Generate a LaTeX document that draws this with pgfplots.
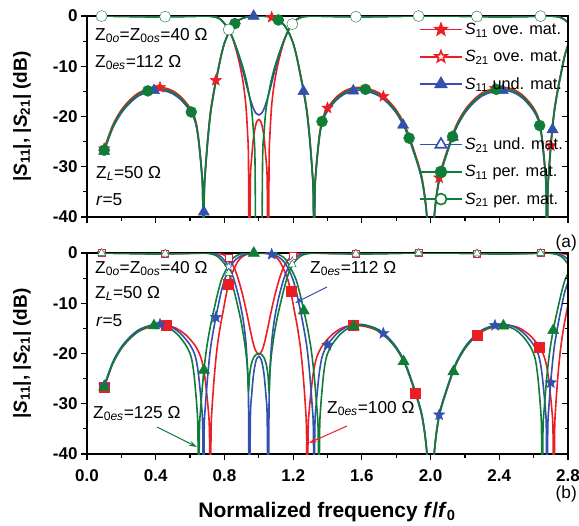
\documentclass[border=0pt]{standalone}
\usepackage{fontspec}
\setmainfont{Liberation Sans}
\usepackage{pgfplots}
\usepackage{pgfplotstable}
\pgfplotsset{compat=1.18}
\usetikzlibrary{arrows.meta}

\definecolor{cR}{RGB}{235,30,35}
\definecolor{cB}{RGB}{50,80,175}
\definecolor{cG}{RGB}{15,125,55}

\newcommand{\Sp}[1]{\textit{S}\textsubscript{#1}}
\newcommand{\fs}{\fontsize{17.3bp}{20bp}\selectfont}

% five-pointed star, filled with the current fill colour
\pgfdeclareplotmark{fstar}{%
  \pgfpathmoveto{\pgfpointpolar{90}{\pgfplotmarksize}}%
  \pgfpathlineto{\pgfpointpolar{126}{0.42\pgfplotmarksize}}%
  \pgfpathlineto{\pgfpointpolar{162}{\pgfplotmarksize}}%
  \pgfpathlineto{\pgfpointpolar{198}{0.42\pgfplotmarksize}}%
  \pgfpathlineto{\pgfpointpolar{234}{\pgfplotmarksize}}%
  \pgfpathlineto{\pgfpointpolar{270}{0.42\pgfplotmarksize}}%
  \pgfpathlineto{\pgfpointpolar{306}{\pgfplotmarksize}}%
  \pgfpathlineto{\pgfpointpolar{342}{0.42\pgfplotmarksize}}%
  \pgfpathlineto{\pgfpointpolar{18}{\pgfplotmarksize}}%
  \pgfpathlineto{\pgfpointpolar{54}{0.42\pgfplotmarksize}}%
  \pgfpathclose
  \pgfusepathqfillstroke}

% |S11| of panel (a); columns: over-, under-, perfectly matched
\pgfplotstableread{
x ove und per
0.10 -26.4 -26.9 -26.7
0.15 -21.7 -22.3 -22.0
0.20 -18.7 -19.3 -19.0
0.25 -16.7 -17.3 -17.0
0.30 -15.3 -15.9 -15.6
0.35 -14.6 -15.2 -14.9
0.40 -14.2 -14.8 -14.5
0.45 -14.3 -14.9 -14.6
0.50 -14.9 -15.5 -15.2
0.55 -16.2 -16.8 -16.5
0.60 -18.3 -18.9 -18.6
0.63 -20.5 -21.1 -20.8
0.648 -23.9 -24.5 -24.2
0.667 -30.5 -31.1 -30.8
0.674 -35.5 -36.5 -36
0.678 -55 -55 -55
0.682 -35.5 -36.5 -36
0.689 -30.5 -31.1 -30.8
0.704 -23.9 -24.5 -24.2
0.72 -18.7 -19.3 -19.0
0.74 -14.6 -15.0 -14.8
0.76 -11.1 -11.5 -11.3
0.78 -7.9 -8.1 -8.0
0.80 -5.4 -5.4 -5.4
0.82 -3.7 -3.7 -3.7
0.83 -3.0 -3.0 -3.0
0.85 -1.9 -1.9 -1.9
0.87 -1.16 -1.16 -1.16
0.89 -0.70 -0.70 -0.70
0.91 -0.40 -0.40 -0.40
0.93 -0.21 -0.21 -0.21
0.95 -0.09 -0.09 -0.09
0.97 -0.03 -0.03 -0.03
1.00 -0.01 -0.01 -0.01
1.03 -0.03 -0.03 -0.03
1.05 -0.09 -0.09 -0.09
1.07 -0.21 -0.21 -0.21
1.09 -0.40 -0.40 -0.40
1.11 -0.70 -0.70 -0.70
1.13 -1.16 -1.16 -1.16
1.15 -1.9 -1.9 -1.9
1.17 -3.0 -3.0 -3.0
1.18 -3.7 -3.7 -3.7
1.20 -5.4 -5.4 -5.4
1.22 -7.9 -8.1 -8.0
1.24 -11.1 -11.5 -11.3
1.26 -14.6 -15.0 -14.8
1.28 -18.7 -19.3 -19.0
1.296 -23.9 -24.5 -24.2
1.311 -30.5 -31.1 -30.8
1.318 -35.5 -36.5 -36
1.322 -55 -55 -55
1.326 -35.5 -36.5 -36
1.333 -30.5 -31.1 -30.8
1.352 -23.9 -24.5 -24.2
1.37 -20.5 -21.1 -20.8
1.40 -18.3 -18.9 -18.6
1.45 -16.2 -16.8 -16.5
1.50 -14.9 -15.5 -15.2
1.55 -14.3 -14.9 -14.6
1.60 -14.2 -14.8 -14.5
1.65 -14.6 -15.2 -14.9
1.70 -15.3 -15.9 -15.6
1.75 -16.7 -17.3 -17.0
1.80 -18.7 -19.3 -19.0
1.85 -21.7 -22.3 -22.0
1.90 -26.4 -26.9 -26.7
1.95 -32.2 -32.8 -32.5
1.98 -40.3 -40.7 -40.5
2.00 -55 -55 -55
2.02 -40.3 -40.7 -40.5
2.05 -32.2 -32.8 -32.5
2.10 -26.4 -26.9 -26.7
2.15 -21.7 -22.3 -22.0
2.20 -18.7 -19.3 -19.0
2.25 -16.7 -17.3 -17.0
2.30 -15.3 -15.9 -15.6
2.35 -14.6 -15.2 -14.9
2.40 -14.2 -14.8 -14.5
2.45 -14.3 -14.9 -14.6
2.50 -14.9 -15.5 -15.2
2.55 -16.2 -16.8 -16.5
2.60 -18.3 -18.9 -18.6
2.63 -20.5 -21.1 -20.8
2.648 -23.9 -24.5 -24.2
2.667 -30.5 -31.1 -30.8
2.674 -35.5 -36.5 -36
2.678 -55 -55 -55
2.682 -35.5 -36.5 -36
2.689 -30.5 -31.1 -30.8
2.704 -23.9 -24.5 -24.2
2.72 -18.7 -19.3 -19.0
2.74 -14.6 -15.0 -14.8
2.76 -11.1 -11.5 -11.3
2.78 -7.9 -8.1 -8.0
2.80 -5.8 -5.8 -5.8
}\topSeleven

\pgfplotsset{
  panel/.style={
    width=481bp, height=201bp, scale only axis,
    xmin=0, xmax=2.8, ymin=-40, ymax=0,
    xtick={0,0.4,0.8,1.2,1.6,2.0,2.4,2.8},
    ytick={-40,-30,-20,-10,0}, yticklabels={-40,-30,-20,-10,0},
    minor x tick num=1, minor y tick num=1,
    tick align=outside, xtick pos=left, ytick pos=left,
    major tick length=6bp, minor tick length=3.5bp,
    axis line style={line width=1.2bp},
    every tick/.style={black, line width=1.2bp},
    tick label style={font=\fontsize{17bp}{17bp}\selectfont\bfseries},
    xticklabel style={yshift=-6bp},
    ylabel={|\Sp{11}|, |\Sp{21}| (dB)},
    every axis y label/.style={at={(axis description cs:-0.135,0.5)}, rotate=90,
      anchor=center, font=\fontsize{19bp}{19bp}\selectfont\bfseries},
  },
  rightticks/.style={
    width=481bp, height=201bp, scale only axis,
    xmin=0, xmax=2.8, ymin=-40, ymax=0,
    hide x axis, axis y line*=right,
    ytick={-40,-30,-20,-10,0}, yticklabels={}, minor y tick num=1,
    tick align=inside, major tick length=6bp, minor tick length=3.5bp,
    axis line style={line width=1.2bp},
    every tick/.style={black, line width=1.2bp},
  },
  cv/.style={line width=1.6bp, smooth, forget plot},
  mk/.style={only marks, forget plot},
}

\begin{document}
\begin{tikzpicture}
\useasboundingbox (0,0) rectangle (579bp,-526bp);

%---------------- panel (a) ----------------
\begin{axis}[panel, at={(87bp,-217bp)}, anchor=south west, xticklabels={},
  legend style={at={(axis description cs:1.0,0.985)}, anchor=north east,
    draw=none, fill=none, font=\fontsize{16.3bp}{16bp}\selectfont, row sep=10.3bp},
  legend cell align=left,
  legend image code/.code={\draw[#1, mark repeat=2, mark phase=2]
    plot coordinates {(0bp,0bp) (21bp,0bp) (42bp,0bp)};}]

% over-matched
\addplot[cv, cR] coordinates {(0.10,-0.01)(0.25,-0.09)(0.40,-0.16)(0.55,-0.10)(0.65,-0.03)(0.70,-0.02)(0.72,-0.05)(0.74,-0.15)(0.76,-0.33)(0.78,-0.72)(0.80,-1.5)(0.82,-2.4)(0.83,-3.0)(0.85,-4.7)(0.87,-7.0)(0.89,-9.8)(0.91,-13.5)(0.925,-17.8)(0.935,-23.5)(0.940,-29)(0.945,-55)(0.951,-33)(0.958,-28.5)(0.97,-24)(0.985,-21.3)(1.0,-20.6)(1.015,-21.3)(1.03,-24)(1.042,-28.5)(1.049,-33)(1.055,-55)(1.06,-29)(1.065,-23.5)(1.075,-17.8)(1.09,-13.5)(1.11,-9.8)(1.13,-7.0)(1.15,-4.7)(1.17,-3.0)(1.18,-2.4)(1.20,-1.5)(1.22,-0.72)(1.24,-0.33)(1.26,-0.15)(1.28,-0.05)(1.30,-0.02)(1.35,-0.03)(1.45,-0.10)(1.60,-0.16)(1.75,-0.09)(1.90,-0.01)(2.10,-0.01)(2.25,-0.09)(2.40,-0.16)(2.55,-0.10)(2.65,-0.03)(2.70,-0.02)(2.72,-0.05)(2.74,-0.15)(2.76,-0.33)(2.78,-0.72)(2.80,-1.3)};
\addplot[cv, cR] table[x=x, y=ove] {\topSeleven};
\addplot[mk, mark=fstar, mark size=6bp, draw=cR, fill=cR] coordinates {(0.1,-26.4)(0.425,-14.2)(0.75,-12.8)(1.075,-0.26)(1.40,-18.3)(1.725,-16.0)(2.05,-32.2)(2.375,-14.4)(2.70,-25.8)};
\addplot[mk, mark=fstar, mark size=5bp, draw=cR, fill=white] coordinates {(0.085,-0.01)(0.455,-0.14)(0.825,-2.7)(1.195,-1.6)(1.565,-0.15)(1.93,-0.01)(2.27,-0.1)(2.64,-0.03)};

% under-matched
\addplot[cv, cB] coordinates {(0.10,-0.01)(0.25,-0.09)(0.40,-0.16)(0.55,-0.10)(0.65,-0.03)(0.70,-0.02)(0.72,-0.05)(0.74,-0.15)(0.76,-0.33)(0.78,-0.72)(0.80,-1.5)(0.82,-2.4)(0.83,-3.0)(0.85,-4.6)(0.87,-6.5)(0.89,-8.8)(0.91,-11.3)(0.93,-14.0)(0.95,-16.5)(0.97,-18.5)(0.985,-19.4)(1.0,-19.7)(1.015,-19.4)(1.03,-18.5)(1.05,-16.5)(1.07,-14.0)(1.09,-11.3)(1.11,-8.8)(1.13,-6.5)(1.15,-4.6)(1.17,-3.0)(1.18,-2.4)(1.20,-1.5)(1.22,-0.72)(1.24,-0.33)(1.26,-0.15)(1.28,-0.05)(1.30,-0.02)(1.35,-0.03)(1.45,-0.10)(1.60,-0.16)(1.75,-0.09)(1.90,-0.01)(2.10,-0.01)(2.25,-0.09)(2.40,-0.16)(2.55,-0.10)(2.65,-0.03)(2.70,-0.02)(2.72,-0.05)(2.74,-0.15)(2.76,-0.33)(2.78,-0.72)(2.80,-1.3)};
\addplot[cv, cB] table[x=x, y=und] {\topSeleven};
\addplot[mk, mark=triangle*, mark size=6.5bp, draw=cB, fill=cB] coordinates {(0.1,-26.9)(0.39,-14.8)(0.68,-39)(0.97,-0.03)(1.26,-15.0)(1.55,-14.9)(1.84,-21.7)(2.13,-24.1)(2.42,-14.8)(2.71,-22.6)};
\addplot[mk, mark=triangle*, mark size=5.5bp, draw=cB, fill=white] coordinates {(0.085,-0.01)(0.455,-0.14)(0.825,-2.7)(1.195,-1.6)(1.565,-0.15)(1.93,-0.01)(2.27,-0.1)(2.64,-0.03)};

% perfectly matched
\addplot[cv, cG] coordinates {(0.10,-0.01)(0.25,-0.09)(0.40,-0.16)(0.55,-0.10)(0.65,-0.03)(0.70,-0.02)(0.72,-0.05)(0.74,-0.15)(0.76,-0.33)(0.78,-0.72)(0.80,-1.5)(0.82,-2.4)(0.83,-3.0)(0.85,-4.5)(0.87,-6.3)(0.89,-8.3)(0.91,-10.5)(0.93,-13.2)(0.95,-16.8)(0.96,-19.2)(0.97,-23.5)(0.978,-29)(0.985,-60)(0.992,-47)(1.0,-45)(1.008,-47)(1.015,-60)(1.022,-29)(1.03,-23.5)(1.04,-19.2)(1.05,-16.8)(1.07,-13.2)(1.09,-10.5)(1.11,-8.3)(1.13,-6.3)(1.15,-4.5)(1.17,-3.0)(1.18,-2.4)(1.20,-1.5)(1.22,-0.72)(1.24,-0.33)(1.26,-0.15)(1.28,-0.05)(1.30,-0.02)(1.35,-0.03)(1.45,-0.10)(1.60,-0.16)(1.75,-0.09)(1.90,-0.01)(2.10,-0.01)(2.25,-0.09)(2.40,-0.16)(2.55,-0.10)(2.65,-0.03)(2.70,-0.02)(2.72,-0.05)(2.74,-0.15)(2.76,-0.33)(2.78,-0.72)(2.80,-1.3)};
\addplot[cv, cG] table[x=x, y=per] {\topSeleven};
\addplot[mk, mark=*, mark size=5.5bp, draw=cG, fill=cG] coordinates {(0.1,-26.7)(0.354,-14.9)(0.607,-19.1)(0.861,-1.5)(1.114,-0.8)(1.368,-21.0)(1.621,-14.6)(1.875,-24.3)(2.128,-24.0)(2.382,-14.6)(2.635,-21.8)};
\addplot[mk, mark=*, mark size=5.5bp, draw=cG, fill=white] coordinates {(0.085,-0.01)(0.455,-0.14)(0.825,-2.7)(1.195,-1.6)(1.565,-0.15)(1.93,-0.01)(2.27,-0.1)(2.64,-0.03)};

\addlegendimage{cR, line width=1.6bp, mark=fstar, mark size=6bp, mark options={fill=cR}}
\addlegendentry{\Sp{11} ove. mat.}
\addlegendimage{cR, line width=1.6bp, mark=fstar, mark size=6bp, mark options={fill=white}}
\addlegendentry{\Sp{21} ove. mat.}
\addlegendimage{cB, line width=1.6bp, mark=triangle*, mark size=6.5bp, mark options={fill=cB}}
\addlegendentry{\Sp{11} und. mat.}
\addlegendimage{empty legend}
\addlegendentry{\rule{0pt}{17bp}}
\addlegendimage{cB, line width=1.6bp, mark=triangle*, mark size=6.5bp, mark options={fill=white}}
\addlegendentry{\Sp{21} und. mat.}
\addlegendimage{cG, line width=1.6bp, mark=*, mark size=5.5bp, mark options={fill=cG}}
\addlegendentry{\Sp{11} per. mat.}
\addlegendimage{cG, line width=1.6bp, mark=*, mark size=5.5bp, mark options={fill=white}}
\addlegendentry{\Sp{21} per. mat.}
\end{axis}
\begin{axis}[rightticks, at={(87bp,-217bp)}, anchor=south west]
\end{axis}

%---------------- panel (b) ----------------
\begin{axis}[panel, at={(87bp,-454bp)}, anchor=south west,
  xticklabels={0.0,0.4,0.8,1.2,1.6,2.0,2.4,2.8}]

% Z0es = 100 Ohm
\addplot[cv, cR] coordinates {(0.10,-0.01)(0.25,-0.09)(0.40,-0.16)(0.55,-0.12)(0.66,-0.04)(0.70,-0.02)(0.742,-0.02)(0.757,-0.05)(0.775,-0.15)(0.794,-0.33)(0.812,-0.72)(0.830,-1.4)(0.849,-2.4)(0.858,-3.0)(0.875,-4.6)(0.89,-6.3)(0.905,-8.2)(0.92,-10.4)(0.935,-12.8)(0.95,-15.3)(0.965,-17.6)(0.98,-19.3)(1.00,-20.2)(1.02,-19.3)(1.035,-17.6)(1.05,-15.3)(1.065,-12.8)(1.08,-10.4)(1.095,-8.2)(1.11,-6.3)(1.125,-4.6)(1.142,-3.0)(1.151,-2.4)(1.170,-1.4)(1.188,-0.72)(1.206,-0.33)(1.225,-0.15)(1.243,-0.05)(1.258,-0.02)(1.30,-0.02)(1.34,-0.04)(1.45,-0.12)(1.60,-0.16)(1.75,-0.09)(1.90,-0.01)(2.10,-0.01)(2.25,-0.09)(2.40,-0.16)(2.55,-0.12)(2.66,-0.04)(2.70,-0.02)(2.742,-0.02)(2.757,-0.05)(2.775,-0.15)(2.794,-0.33)(2.80,-0.42)};
\addplot[cv, cR] coordinates {(0.10,-26.7)(0.15,-22.0)(0.20,-19.0)(0.25,-17.0)(0.30,-15.6)(0.35,-14.9)(0.40,-14.5)(0.457,-14.4)(0.514,-14.9)(0.572,-16.2)(0.629,-18.4)(0.663,-20.8)(0.684,-24.2)(0.705,-30.8)(0.713,-36)(0.718,-55)(0.722,-36)(0.728,-30.8)(0.742,-24.2)(0.757,-19.0)(0.775,-14.8)(0.794,-11.3)(0.812,-8.0)(0.830,-5.4)(0.849,-3.7)(0.858,-3.0)(0.875,-1.85)(0.89,-1.16)(0.905,-0.71)(0.92,-0.41)(0.935,-0.23)(0.95,-0.13)(0.975,-0.06)(1.00,-0.04)(1.025,-0.06)(1.05,-0.13)(1.065,-0.23)(1.08,-0.41)(1.095,-0.71)(1.11,-1.16)(1.125,-1.85)(1.142,-3.0)(1.151,-3.7)(1.170,-5.4)(1.188,-8.0)(1.206,-11.3)(1.225,-14.8)(1.243,-19.0)(1.258,-24.2)(1.272,-30.8)(1.278,-36)(1.282,-55)(1.287,-36)(1.295,-30.8)(1.316,-24.2)(1.337,-20.8)(1.371,-18.4)(1.428,-16.2)(1.486,-14.9)(1.543,-14.4)(1.60,-14.5)(1.65,-14.9)(1.70,-15.6)(1.75,-17.0)(1.80,-19.0)(1.85,-22.0)(1.90,-26.7)(1.95,-32.5)(1.98,-40.5)(2.00,-55)(2.02,-40.5)(2.05,-32.5)(2.10,-26.7)(2.15,-22.0)(2.20,-19.0)(2.25,-17.0)(2.30,-15.6)(2.35,-14.9)(2.40,-14.5)(2.457,-14.4)(2.514,-14.9)(2.572,-16.2)(2.629,-18.4)(2.663,-20.8)(2.684,-24.2)(2.705,-30.8)(2.713,-36)(2.718,-55)(2.722,-36)(2.728,-30.8)(2.742,-24.2)(2.757,-19.0)(2.775,-14.8)(2.794,-11.3)(2.80,-10.3)};
\addplot[mk, mark=square*, mark size=5bp, draw=cR, fill=cR] coordinates {(0.1,-26.7)(0.462,-14.4)(0.824,-6.3)(1.186,-7.7)(1.548,-14.4)(1.91,-27.9)(2.272,-16.4)(2.634,-18.8)};
\addplot[mk, mark=square*, mark size=3.5bp, draw=cR, fill=white] coordinates {(0.085,-0.01)(0.455,-0.14)(0.825,-1.0)(1.195,-0.5)(1.565,-0.15)(1.93,-0.01)(2.27,-0.1)(2.64,-0.03)};

% Z0es = 112 Ohm
\addplot[cv, cB] coordinates {(0.10,-0.01)(0.25,-0.09)(0.40,-0.16)(0.55,-0.10)(0.65,-0.03)(0.70,-0.02)(0.72,-0.05)(0.74,-0.15)(0.76,-0.33)(0.78,-0.72)(0.80,-1.5)(0.82,-2.4)(0.83,-3.0)(0.85,-4.7)(0.87,-7.0)(0.89,-9.8)(0.91,-13.5)(0.925,-17.8)(0.935,-23.5)(0.940,-29)(0.945,-55)(0.951,-33)(0.958,-28.5)(0.97,-24)(0.985,-21.3)(1.0,-20.6)(1.015,-21.3)(1.03,-24)(1.042,-28.5)(1.049,-33)(1.055,-55)(1.06,-29)(1.065,-23.5)(1.075,-17.8)(1.09,-13.5)(1.11,-9.8)(1.13,-7.0)(1.15,-4.7)(1.17,-3.0)(1.18,-2.4)(1.20,-1.5)(1.22,-0.72)(1.24,-0.33)(1.26,-0.15)(1.28,-0.05)(1.30,-0.02)(1.35,-0.03)(1.45,-0.10)(1.60,-0.16)(1.75,-0.09)(1.90,-0.01)(2.10,-0.01)(2.25,-0.09)(2.40,-0.16)(2.55,-0.10)(2.65,-0.03)(2.70,-0.02)(2.72,-0.05)(2.74,-0.15)(2.76,-0.33)(2.78,-0.72)(2.80,-1.3)};
\addplot[cv, cB] table[x=x, y=ove] {\topSeleven};
\addplot[mk, mark=fstar, mark size=6bp, draw=cB, fill=cB] coordinates {(0.1,-26.4)(0.425,-14.2)(0.75,-12.8)(1.075,-0.26)(1.40,-18.3)(1.725,-16.0)(2.05,-32.2)(2.375,-14.4)(2.70,-25.8)};
\addplot[mk, mark=fstar, mark size=4.5bp, draw=cB, fill=white] coordinates {(0.085,-0.01)(0.455,-0.14)(0.825,-2.7)(1.195,-1.6)(1.565,-0.15)(1.93,-0.01)(2.27,-0.1)(2.64,-0.03)};

% Z0es = 125 Ohm
\addplot[cv, cG] coordinates {(0.10,-0.01)(0.25,-0.09)(0.40,-0.16)(0.52,-0.10)(0.62,-0.03)(0.67,-0.02)(0.696,-0.05)(0.717,-0.15)(0.739,-0.33)(0.761,-0.72)(0.782,-1.4)(0.804,-2.3)(0.815,-3.0)(0.835,-4.9)(0.855,-7.4)(0.875,-10.2)(0.895,-13.3)(0.912,-16.6)(0.925,-19.8)(0.934,-23.0)(0.940,-27.5)(0.946,-24.5)(0.956,-22.2)(0.970,-20.8)(0.985,-20.2)(1.000,-20.0)(1.015,-20.2)(1.030,-20.8)(1.044,-22.2)(1.054,-24.5)(1.060,-27.5)(1.066,-23.0)(1.075,-19.8)(1.088,-16.6)(1.105,-13.3)(1.125,-10.2)(1.145,-7.4)(1.165,-4.9)(1.185,-3.0)(1.196,-2.3)(1.218,-1.4)(1.239,-0.72)(1.261,-0.33)(1.283,-0.15)(1.304,-0.05)(1.33,-0.02)(1.38,-0.03)(1.48,-0.10)(1.60,-0.16)(1.75,-0.09)(1.90,-0.01)(2.10,-0.01)(2.25,-0.09)(2.40,-0.16)(2.52,-0.10)(2.62,-0.03)(2.67,-0.02)(2.696,-0.05)(2.717,-0.15)(2.739,-0.33)(2.761,-0.72)(2.782,-1.4)(2.80,-2.2)};
\addplot[cv, cG] coordinates {(0.10,-26.7)(0.15,-22.0)(0.20,-19.0)(0.25,-17.0)(0.30,-15.6)(0.35,-14.7)(0.40,-14.4)(0.445,-14.6)(0.49,-15.2)(0.535,-16.5)(0.58,-18.6)(0.607,-20.8)(0.623,-24.2)(0.640,-30.8)(0.646,-36)(0.650,-55)(0.654,-36)(0.662,-30.8)(0.678,-24.2)(0.696,-19.0)(0.717,-14.8)(0.739,-11.3)(0.761,-8.0)(0.782,-5.4)(0.804,-3.7)(0.815,-3.0)(0.835,-1.7)(0.855,-0.87)(0.875,-0.44)(0.895,-0.21)(0.92,-0.08)(0.95,-0.02)(1.00,-0.01)(1.05,-0.02)(1.08,-0.08)(1.105,-0.21)(1.125,-0.44)(1.145,-0.87)(1.165,-1.7)(1.185,-3.0)(1.196,-3.7)(1.218,-5.4)(1.239,-8.0)(1.261,-11.3)(1.283,-14.8)(1.304,-19.0)(1.322,-24.2)(1.338,-30.8)(1.346,-36)(1.350,-55)(1.354,-36)(1.360,-30.8)(1.377,-24.2)(1.393,-20.8)(1.42,-18.6)(1.465,-16.5)(1.51,-15.2)(1.555,-14.6)(1.60,-14.4)(1.65,-14.7)(1.70,-15.6)(1.75,-17.0)(1.80,-19.0)(1.85,-22.0)(1.90,-26.7)(1.95,-32.5)(1.98,-40.5)(2.00,-55)(2.02,-40.5)(2.05,-32.5)(2.10,-26.7)(2.15,-22.0)(2.20,-19.0)(2.25,-17.0)(2.30,-15.6)(2.35,-14.7)(2.40,-14.4)(2.445,-14.6)(2.49,-15.2)(2.535,-16.5)(2.58,-18.6)(2.607,-20.8)(2.623,-24.2)(2.640,-30.8)(2.646,-36)(2.650,-55)(2.654,-36)(2.662,-30.8)(2.678,-24.2)(2.696,-19.0)(2.717,-14.8)(2.739,-11.3)(2.761,-8.0)(2.782,-5.4)(2.80,-4.1)};
\addplot[mk, mark=triangle*, mark size=6.5bp, draw=cG, fill=cG] coordinates {(0.1,-26.7)(0.39,-14.45)(0.681,-23.3)(0.971,-0.01)(1.262,-11.5)(1.552,-14.6)(1.843,-21.6)(2.133,-23.6)(2.424,-14.5)(2.714,-15.4)};
\addplot[mk, mark=triangle*, mark size=4.5bp, draw=cG, fill=white] coordinates {(0.085,-0.01)(0.455,-0.14)(0.825,-4.0)(1.195,-2.3)(1.565,-0.15)(1.93,-0.01)(2.27,-0.1)(2.64,-0.03)};
\end{axis}
\begin{axis}[rightticks, at={(87bp,-454bp)}, anchor=south west]
\end{axis}

%---------------- annotations ----------------
\begin{scope}[every node/.style={inner sep=0pt, font=\fs}]
\node[anchor=base west] at (95bp,-40bp) {Z\textsubscript{0\textit{o}}=Z\textsubscript{0\textit{os}}=40 Ω};
\node[anchor=base west] at (95bp,-67bp) {Z\textsubscript{0\textit{es}}=112 Ω};
\node[anchor=base west] at (96bp,-178bp) {Z\textsubscript{\textit{L}}=50 Ω};
\node[anchor=base west] at (96bp,-205bp) {\textit{r}=5};
\node[anchor=base east] at (577bp,-247bp) {(a)};

\node[anchor=base west] at (95bp,-273bp) {Z\textsubscript{0\textit{o}}=Z\textsubscript{0\textit{os}}=40 Ω};
\node[anchor=base west] at (95bp,-298bp) {Z\textsubscript{\textit{L}}=50 Ω};
\node[anchor=base west] at (96bp,-326bp) {\textit{r}=5};
\node[anchor=base west] at (310bp,-273bp) {Z\textsubscript{0\textit{es}}=112 Ω};
\node[anchor=base west] at (93bp,-418bp) {Z\textsubscript{0\textit{es}}=125 Ω};
\node[anchor=base west] at (327bp,-413bp) {Z\textsubscript{0\textit{es}}=100 Ω};
\node[anchor=base east] at (577bp,-498bp) {(b)};
\node[anchor=base, font=\fontsize{21bp}{21bp}\selectfont\bfseries] at (327bp,-517bp)
  {Normalized frequency \textit{f}/\textit{f}\textsubscript{0}};
\end{scope}
\draw[cB, line width=1bp, -{Stealth[length=8bp,width=5bp]}] (327bp,-287bp) -- (295bp,-303bp);
\draw[cG, line width=1bp, -{Stealth[length=8bp,width=5bp]}] (157bp,-427bp) -- (197bp,-447bp);
\draw[cR, line width=1bp, -{Stealth[length=8bp,width=5bp]}] (347bp,-426bp) -- (309bp,-443bp);
\end{tikzpicture}
\end{document}
